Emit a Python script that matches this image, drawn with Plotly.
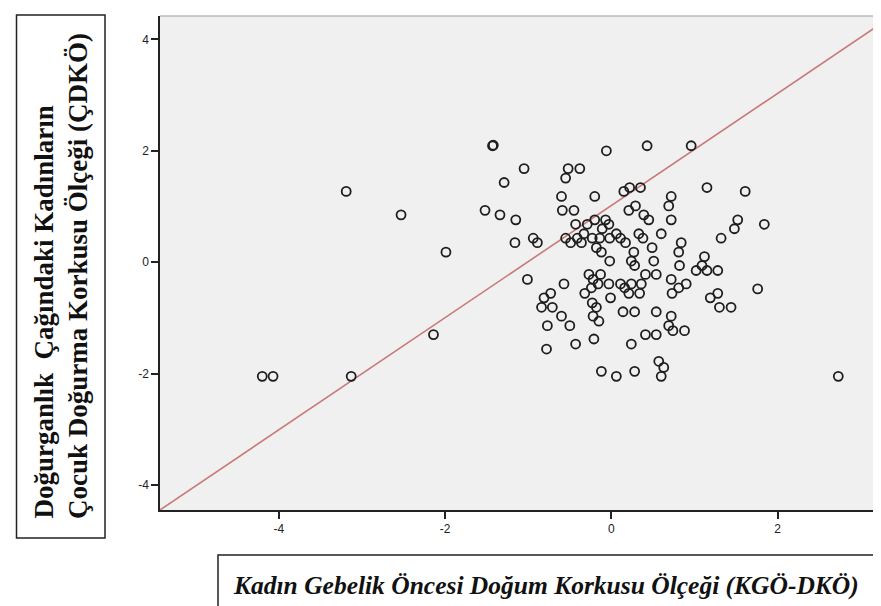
import plotly.graph_objects as go

# KGÖ-DKÖ (x) and ÇDKÖ (y) standardized scores
kgo_dko = [-4.20, -4.07, -3.13, -3.19, -2.53, -1.99, -2.14, -1.43, -1.42, -0.06,
           0.43, 0.96, -1.05, -0.52, -0.38, -0.55, -1.29, 0.15, 0.22, 0.35,
           1.15, 1.61, -0.60, -0.20, 0.72, 0.69, 0.29, 0.21, -1.52, -1.34,
           -1.15, -0.59, -0.45, 0.39, 0.45, 0.72, -0.20, -0.07, 1.52, 1.84,
           1.48, -0.43, -0.29, -0.11, -0.03, 0.33, 0.60, 0.06, 1.32, -0.94,
           -0.89, -1.16, -0.55, -0.41, -0.49, -0.36, -0.33, -0.23, -0.14, -0.02,
           0.11, 0.17, 0.38, -0.18, -0.12, 0.49, 0.84, 0.81, 0.27, 1.12,
           -0.02, 0.24, 0.28, 0.51, 0.82, 1.09, 1.02, 1.15, 1.28, -1.01,
           -0.57, -0.27, -0.13, -0.22, -0.16, -0.03, 0.11, 0.16, 0.24, 0.41,
           0.54, 0.36, 0.72, 0.90, 0.81, 0.73, 0.21, 0.34, -0.32, -0.24,
           -0.73, -0.81, -0.84, -0.71, -0.01, -0.23, -0.18, 1.76, 1.19, 1.28,
           1.30, 1.44, -0.60, -0.22, -0.15, 0.14, 0.28, 0.54, 0.72, -0.77,
           -0.50, 0.69, 0.74, 0.88, -0.21, -0.43, 0.24, 0.41, 0.54, -0.78,
           -0.12, 0.06, 0.28, 0.57, 0.63, 0.60, 2.73]
cdko = [-2.05, -2.05, -2.05, 1.27, 0.85, 0.18, -1.30, 2.09, 2.10, 2.00,
        2.09, 2.09, 1.68, 1.68, 1.68, 1.51, 1.43, 1.27, 1.34, 1.34,
        1.34, 1.27, 1.18, 1.18, 1.18, 1.01, 1.01, 0.93, 0.93, 0.85,
        0.76, 0.93, 0.93, 0.85, 0.76, 0.76, 0.76, 0.76, 0.76, 0.68,
        0.60, 0.68, 0.68, 0.60, 0.68, 0.51, 0.51, 0.51, 0.43, 0.43,
        0.35, 0.35, 0.43, 0.43, 0.35, 0.35, 0.51, 0.43, 0.43, 0.43,
        0.43, 0.35, 0.43, 0.26, 0.18, 0.26, 0.35, 0.18, 0.18, 0.10,
        0.02, 0.02, -0.06, 0.02, -0.06, -0.06, -0.15, -0.15, -0.15, -0.31,
        -0.39, -0.22, -0.22, -0.31, -0.39, -0.39, -0.39, -0.46, -0.39, -0.22,
        -0.22, -0.39, -0.31, -0.39, -0.46, -0.56, -0.56, -0.56, -0.56, -0.46,
        -0.56, -0.64, -0.81, -0.81, -0.64, -0.73, -0.81, -0.48, -0.64, -0.56,
        -0.81, -0.81, -0.97, -0.97, -1.06, -0.89, -0.89, -0.89, -0.97, -1.14,
        -1.14, -1.14, -1.23, -1.23, -1.38, -1.47, -1.47, -1.30, -1.30, -1.56,
        -1.96, -2.05, -1.96, -1.78, -1.89, -2.05, -2.05]

# reference line endpoints (data units)
ref_x = [-5.45, 3.40]
ref_y = [-4.47, 4.44]

tick_vals = [-4, -2, 0, 2, 4]
tick_text = ["-4", "-2", "0", "2", "4"]

x_title = "Kadın Gebelik Öncesi Doğum Korkusu Ölçeği (KGÖ-DKÖ)"
y_title_1 = "Doğurganlık  Çağındaki Kadınların"
y_title_2 = "Çocuk Doğurma Korkusu Ölçeği (ÇDKÖ)"

W, H = 881, 606
L, R, T, B = 152, 0, 8, 104
pw, ph = W - L - R, H - T - B


def px(x):
    return (x - L) / pw


def py(y):
    return (H - B - y) / ph


fig = go.Figure()
fig.add_trace(go.Scatter(
    x=ref_x, y=ref_y, mode="lines",
    line=dict(color="#c97a78", width=1.6), hoverinfo="skip", showlegend=False))
fig.add_trace(go.Scatter(
    x=kgo_dko, y=cdko, mode="markers",
    marker=dict(symbol="circle-open", size=9, color="#1e1e1e",
                line=dict(width=1.8, color="#1e1e1e")),
    showlegend=False))

fig.update_layout(
    width=W, height=H,
    margin=dict(l=L, r=R, t=T, b=B, pad=0),
    paper_bgcolor="white", plot_bgcolor="#f0f0f0",
    font=dict(family="Arial, Liberation Sans, sans-serif", size=12, color="#222"),
    xaxis=dict(range=[-5.43, 3.34], tickvals=tick_vals[:4], ticktext=tick_text[:4],
               showgrid=False, zeroline=False, showline=True, linecolor="#222",
               linewidth=1.5, ticks="outside", ticklen=7, tickcolor="#222",
               tickwidth=1.5, tickfont=dict(size=12, color="#222")),
    yaxis=dict(range=[-4.45, 4.42], tickvals=tick_vals, ticktext=tick_text,
               showgrid=False, zeroline=False, showline=True, linecolor="#222",
               linewidth=1.5, ticks="outside", ticklen=7, tickcolor="#222",
               tickwidth=1.5, tickfont=dict(size=12, color="#222")),
)

# top border of plot area
fig.add_shape(type="line", xref="paper", yref="paper", x0=0, x1=1, y0=1, y1=1,
              line=dict(color="#999999", width=1.2))

# y-title box
fig.add_shape(type="rect", xref="paper", yref="paper",
              x0=px(8.5), x1=px(97), y0=py(530), y1=py(7),
              line=dict(color="#222", width=1.5), fillcolor="white", layer="above")
for cx, txt in [(35, y_title_1), (70, y_title_2)]:
    fig.add_annotation(xref="paper", yref="paper", x=px(cx), y=py(513),
                       xanchor="center", yanchor="bottom", text="<b>%s</b>" % txt,
                       textangle=-90, showarrow=False,
                       font=dict(family="Liberation Serif, Times New Roman, serif",
                                 size=27, color="#111"))

# x-title box
fig.add_shape(type="rect", xref="paper", yref="paper",
              x0=px(210), x1=px(866), y0=py(604), y1=py(547),
              line=dict(color="#222", width=1.5), fillcolor="white", layer="above")
fig.add_annotation(xref="paper", yref="paper", x=px(538), y=py(577),
                   xanchor="center", yanchor="middle",
                   text="<b><i>%s</i></b>" % x_title, showarrow=False,
                   font=dict(family="Liberation Serif, Times New Roman, serif",
                             size=25.5, color="#111"))

fig.write_html("out.html")
